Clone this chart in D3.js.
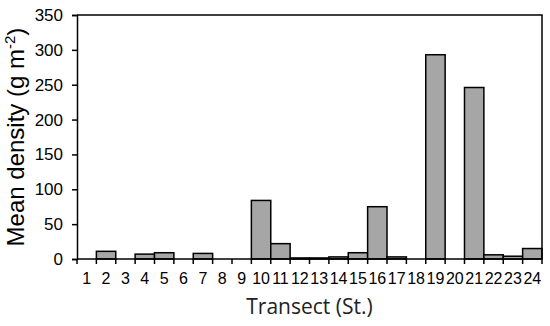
<!DOCTYPE html>
<html>
<head>
<meta charset="utf-8">
<script src="https://cdn.jsdelivr.net/npm/d3@7"></script>
<style>
  body { margin: 0; background: #fff; }
  text { font-family: "Liberation Sans", Arial, sans-serif; }
</style>
</head>
<body>
<div id="chart"></div>
<script>
// data
let transects = ["1", "2", "3", "4", "5", "6", "7", "8", "9", "10", "11", "12",
  "13", "14", "15", "16", "17", "18", "19", "20", "21", "22", "23", "24"];
let density = [0, 11, 0, 7, 9, 0, 8, 0, 0, 84, 22, 1.5,
  1.5, 3, 9, 75, 3, 0, 293, 0, 246, 6, 4, 15];
let yTicks = [0, 50, 100, 150, 200, 250, 300, 350];

let svg = d3.select("#chart").append("svg")
    .attr("width", 550)
    .attr("height", 326),
  margin = { top: 15, right: 8, bottom: 67, left: 77 },
  width = 550 - margin.left - margin.right,
  height = 326 - margin.top - margin.bottom;

let g = svg.append("g")
  .attr("transform", "translate(" + margin.left + "," + margin.top + ")");

let x = d3.scaleBand().domain(transects).range([0, width]).padding(0);
let y = d3.scaleLinear().domain([0, 350]).range([height, 0]);

// bars
g.selectAll("rect.bar")
  .data(density)
  .enter()
  .append("rect")
  .attr("class", "bar")
  .attr("x", function (d, i) { return x(transects[i]); })
  .attr("width", x.bandwidth())
  .attr("y", function (d) { return y(d); })
  .attr("height", function (d) { return height - y(d); })
  .attr("fill", "#a6a6a6")
  .attr("stroke", "#000")
  .attr("stroke-width", 1.5);

// frame (top and right)
g.append("path")
  .attr("d", "M0,0H" + width + "V" + height)
  .attr("fill", "none")
  .attr("stroke", "#000")
  .attr("stroke-width", 1.5);

// y axis
let yAxis = g.append("g")
  .call(d3.axisLeft(y).tickValues(yTicks).tickSize(5).tickPadding(9));
yAxis.select(".domain").attr("stroke-width", 1.5);
yAxis.selectAll(".tick line").attr("stroke-width", 1.5);
yAxis.selectAll("text")
  .style("font-size", "17px")
  .attr("fill", "#000");

// x axis: ticks at band edges, labels centred in bands
let xAxis = g.append("g").attr("transform", "translate(0," + height + ")");
xAxis.append("line")
  .attr("x1", 0).attr("x2", width)
  .attr("stroke", "#000").attr("stroke-width", 1.5);
xAxis.selectAll("line.edge")
  .data(transects.concat(["end"]))
  .enter()
  .append("line")
  .attr("class", "edge")
  .attr("x1", function (d, i) { return i * x.step(); })
  .attr("x2", function (d, i) { return i * x.step(); })
  .attr("y1", 0).attr("y2", 5)
  .attr("stroke", "#000").attr("stroke-width", 1.5);
xAxis.selectAll("text")
  .data(transects)
  .enter()
  .append("text")
  .attr("x", function (d) { return x(d) + x.bandwidth() / 2; })
  .attr("y", 25)
  .attr("text-anchor", "middle")
  .style("font-size", "16px")
  .text(function (d) { return d; });

// axis titles
svg.append("text")
  .attr("x", margin.left + width / 2)
  .attr("y", 314)
  .attr("text-anchor", "middle")
  .style("font-family", "'Open Sans', sans-serif")
  .style("font-size", "21px")
  .attr("fill", "#222")
  .text("Transect  (St.)");

let yTitle = svg.append("text")
  .attr("transform", "translate(24," + (margin.top + height / 2) + ") rotate(-90)")
  .attr("text-anchor", "middle")
  .style("font-size", "24px");
yTitle.append("tspan").text("Mean density (g m");
yTitle.append("tspan").attr("dy", -9).style("font-size", "15px").text("-2");
yTitle.append("tspan").attr("dy", 9).text(")");
</script>
</body>
</html>
